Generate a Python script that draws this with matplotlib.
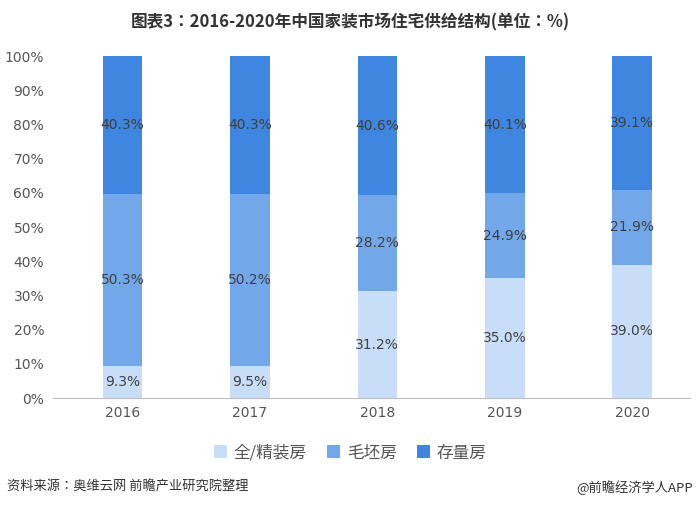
import glob, os
import matplotlib
matplotlib.use("Agg")
import matplotlib.pyplot as plt
from matplotlib import font_manager

years = ["2016", "2017", "2018", "2019", "2020"]
jing = [9.3, 9.5, 31.2, 35.0, 39.0]
mao = [50.3, 50.2, 28.2, 24.9, 21.9]
cun = [40.3, 40.3, 40.6, 40.1, 39.1]
names = ["全/精装房", "毛坯房", "存量房"]
colors = ["#C8DEF8", "#72A7EA", "#3E86E0"]

files = []
for d in ["/usr/share/fonts", "/usr/local/share/fonts", os.path.expanduser("~/.fonts"), os.path.expanduser("~/.local/share/fonts")]:
    files += glob.glob(os.path.join(d, "**", "*CJK*"), recursive=True)
for f in files:
    try:
        font_manager.fontManager.addfont(f)
    except Exception:
        pass
avail = {f.name for f in font_manager.fontManager.ttflist}
cjk = [n for n in avail if "CJK" in n and ("SC" in n or "JP" in n)] or [n for n in avail if "CJK" in n]
cjk.sort(key=lambda n: (not n.endswith("SC"), n))
plt.rcParams["font.family"] = "sans-serif"
plt.rcParams["font.sans-serif"] = ["DejaVu Sans"] + cjk
fig = plt.figure(figsize=(7, 5.08), dpi=100)
ax = fig.add_axes([0.075, 0.2165, 0.91, 0.673])
x = range(len(years))
bottom = [0]*len(years)
for vals, c, n in zip([jing, mao, cun], colors, names):
    ax.bar(x, vals, bottom=bottom, width=0.31, color=c, label=n)
    for i, v in enumerate(vals):
        ax.text(i, bottom[i] + v/2, f"{v:.1f}%", ha="center", va="center", fontsize=10, color="#404040")
    bottom = [b + v for b, v in zip(bottom, vals)]
ax.set_ylim(0, 100)
ax.set_xlim(-0.55, 4.45)
ax.set_yticks(range(0, 101, 10))
ax.set_yticklabels([f"{t}%" for t in range(0, 101, 10)], fontsize=10, color="#555555")
ax.set_xticks(list(x))
ax.set_xticklabels(years, fontsize=10, color="#555555")
ax.tick_params(length=0, pad=6)
for s in ["top", "right", "left"]:
    ax.spines[s].set_visible(False)
ax.spines["bottom"].set_color("#BFBFBF")
cjkfam = cjk + ["DejaVu Sans"]
fig.text(0.5, 0.955, "图表3：2016-2020年中国家装市场住宅供给结构(单位：%)", ha="center", va="center",
         fontsize=12, fontweight="bold", color="#333333", family=cjkfam)
fig.legend(loc="center", bbox_to_anchor=(0.5, 0.108), ncol=3, frameon=False,
           prop={"family": cjkfam, "size": 12},
           handlelength=0.8, handleheight=0.8, columnspacing=1.2, handletextpad=0.4, labelcolor="#555555")
fig.text(0.01, 0.04, "资料来源：奥维云网 前瞻产业研究院整理", fontsize=9.5, color="#333333", va="center", family=cjkfam)
fig.text(0.99, 0.04, "@前瞻经济学人APP", fontsize=9.5, color="#333333", va="center", ha="right", family=cjkfam)
fig.savefig("out.png", dpi=100, facecolor="white")
